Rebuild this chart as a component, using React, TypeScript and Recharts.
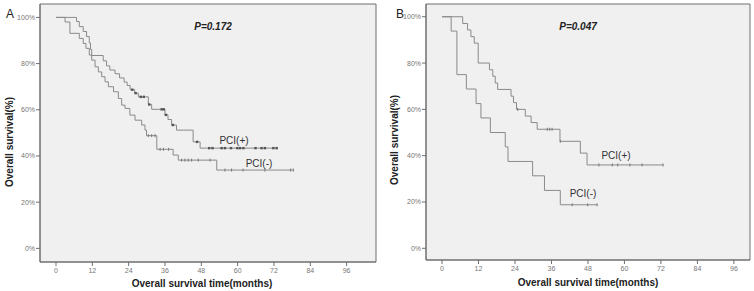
import React from "react";
import { ComposedChart, Line, Scatter, XAxis, YAxis, ReferenceArea } from "recharts";

// [month, survival %] step points
const aPos = [
  [0, 100], [6.8, 98.2], [7.7, 96], [9, 93.9], [10.1, 91.7], [11, 88.9], [11.4, 86.1],
  [11.8, 83.5], [15.6, 81.2], [16.7, 79], [17.8, 77.2], [19.5, 75.6], [21, 73.8],
  [22.5, 72], [23.5, 70.5], [24.5, 68.7], [26, 67.2], [27.2, 65.6], [30.5, 62.3],
  [31.6, 60.2], [36, 57.8], [37, 55.8], [38.2, 53.4], [39.8, 51.2], [45.3, 46.1],
  [47.6, 43.4], [73, 43.4],
];
const aNeg = [
  [0, 100], [3, 98], [4.6, 93.1], [7.7, 90.9], [9, 88.7], [9.9, 86.6], [11, 83.7],
  [11.8, 81.5], [12.9, 78.6], [14, 76.4], [15.1, 74.3], [16.2, 72.1], [17.3, 70],
  [19, 67.8], [20.6, 64.9], [21.7, 62], [22.8, 60.6], [24.4, 57.7], [26.1, 55.5],
  [28.3, 53.4], [29.4, 51.2], [29.9, 48.8], [33.3, 42.9], [38.7, 40.4], [40.4, 38.2],
  [53.1, 33.9], [78.4, 33.9],
];
const aPosCensor = [
  [25.2, 68.7], [26.3, 67.2], [28, 65.6], [29, 65.6], [30.8, 62.3], [34.9, 60.2],
  [35.6, 60.2], [36.3, 57.8], [38.6, 53.4], [46.6, 46.1], [50.6, 43.4], [51.7, 43.4],
  [54.7, 43.4], [55.8, 43.4], [57.8, 43.4], [59.9, 43.4], [60.8, 43.4], [61.9, 43.4],
  [65.9, 43.4], [67.9, 43.4], [69, 43.4], [71.8, 43.4], [72.9, 43.4],
];
const aNegCensor = [
  [30.5, 48.8], [31.6, 48.8], [32.7, 48.8], [34.4, 42.9], [35.5, 42.9], [37.2, 42.9],
  [41.5, 38.2], [42.6, 38.2], [43.7, 38.2], [44.8, 38.2], [47, 38.2], [50.9, 38.2],
  [55.8, 33.9], [58, 33.9], [61.8, 33.9], [69, 33.9], [77.5, 33.9], [78.4, 33.9],
];

const bPos = [
  [0, 100], [6.8, 97.1], [8.4, 94.3], [9.5, 91.4], [10.6, 88.6], [11.9, 80], [15.6, 77.1],
  [16.7, 74.3], [17.5, 71.4], [18.3, 68.6], [22.7, 65.7], [23.5, 62.9], [24.5, 60],
  [27.4, 57.1], [29.3, 54.3], [31.3, 51.4], [38.8, 46.2], [45.5, 41.1], [47.7, 36],
  [72.7, 36],
];
const bNeg = [
  [0, 100], [3, 93.8], [4.9, 75], [8, 68.8], [11.2, 62.5], [12.8, 56.3], [15.9, 50],
  [20.8, 43.8], [21.7, 37.5], [29.8, 31.3], [33.7, 25], [38.9, 18.8], [51, 18.8],
];
const bPosCensor = [
  [24.9, 60], [34.6, 51.4], [35.4, 51.4], [36.2, 51.4], [38.9, 46.2], [51.6, 36],
  [56, 36], [57.8, 36], [61.8, 36], [65.8, 36], [72.7, 36],
];
const bNegCensor = [[42.8, 18.8], [47.9, 18.8], [51, 18.8]];

const xTicks = [0, 12, 24, 36, 48, 60, 72, 84, 96];
const yTicks = [0, 20, 40, 60, 80, 100];

const font = "'Liberation Sans', Arial, sans-serif";
const lineColor = "#8a8a8a";
const frame = "#6f6f6f";

const toPts = (a: number[][]) => a.map(([m, s]) => ({ m, s }));

const tickMark = (props: any) => (
  <path d={`M${props.cx},${props.cy - 1.5}V${props.cy + 1.5}`} stroke="#777" strokeWidth={1} />
);
const boldMark = (props: any) => (
  <rect x={props.cx - 1.2} y={props.cy - 1.2} width={2.4} height={2.4} fill="#555" />
);

interface PanelProps {
  width: number;
  yWidth: number;
  xHeight: number;
  right: number;
  xDomain: [number, number];
  yDomain: [number, number];
  pos: number[][];
  neg: number[][];
  posCensor: number[][];
  negCensor: number[][];
  posBold?: boolean;
}

function Panel(p: PanelProps) {
  return (
    <ComposedChart
      width={p.width}
      height={291}
      margin={{ top: 4, right: p.right, bottom: 0, left: 0 }}
      style={{ fontFamily: font }}
    >
      <XAxis
        type="number"
        dataKey="m"
        domain={p.xDomain}
        ticks={xTicks}
        interval={0}
        allowDataOverflow
        height={p.xHeight}
        tickSize={4}
        tickMargin={2}
        tick={{ fontSize: 7, fill: "#777" }}
        axisLine={{ stroke: frame }}
        tickLine={{ stroke: frame }}
      />
      <YAxis
        type="number"
        dataKey="s"
        domain={p.yDomain}
        ticks={yTicks}
        interval={0}
        allowDataOverflow
        width={p.yWidth}
        tickSize={4}
        tickMargin={1}
        tickFormatter={(v) => `${v}%`}
        tick={{ fontSize: 7, fill: "#777" }}
        axisLine={{ stroke: frame }}
        tickLine={{ stroke: frame }}
      />
      <ReferenceArea
        x1={p.xDomain[0]}
        x2={p.xDomain[1]}
        y1={p.yDomain[0]}
        y2={p.yDomain[1]}
        fill="#f0f0f0"
        fillOpacity={1}
        stroke={frame}
        ifOverflow="visible"
      />
      <Line data={toPts(p.pos)} dataKey="s" type="stepAfter" stroke={lineColor} strokeWidth={1} dot={false} isAnimationActive={false} />
      <Line data={toPts(p.neg)} dataKey="s" type="stepAfter" stroke={lineColor} strokeWidth={1} dot={false} isAnimationActive={false} />
      <Scatter data={toPts(p.posCensor)} dataKey="s" shape={p.posBold ? boldMark : tickMark} isAnimationActive={false} />
      <Scatter data={toPts(p.negCensor)} dataKey="s" shape={tickMark} isAnimationActive={false} />
    </ComposedChart>
  );
}

const txt = (x: number, y: number, s: React.CSSProperties = {}): React.CSSProperties => ({
  position: "absolute",
  left: x,
  top: y,
  transform: "translate(-50%, -50%)",
  whiteSpace: "nowrap",
  fontFamily: font,
  color: "#222",
  ...s,
});

export default function App() {
  const title = { fontSize: 10, fontWeight: "bold" as const };
  const yTitle = { ...title, transform: "translate(-50%, -50%) rotate(-90deg)" };
  return (
    <div style={{ position: "absolute", left: 0, top: 0, width: 754, height: 291, background: "#fff" }}>
      <div style={{ position: "absolute", left: 0, top: 0 }}>
        <Panel
          width={377}
          yWidth={40}
          xHeight={29}
          right={1}
          xDomain={[-5.28, 105.7]}
          yDomain={[-5.9, 105.8]}
          pos={aPos}
          neg={aNeg}
          posCensor={aPosCensor}
          negCensor={aNegCensor}
          posBold
        />
      </div>
      <div style={{ position: "absolute", left: 377, top: 0 }}>
        <Panel
          width={377}
          yWidth={49}
          xHeight={31}
          right={4}
          xDomain={[-5.27, 101.3]}
          yDomain={[-5.05, 105.5]}
          pos={bPos}
          neg={bNeg}
          posCensor={bPosCensor}
          negCensor={bNegCensor}
        />
      </div>

      <div style={txt(10, 14, { fontSize: 12 })}>A</div>
      <div style={txt(400, 14, { fontSize: 12 })}>B</div>

      <div style={txt(213, 26, { ...title, fontStyle: "italic" })}>P=0.172</div>
      <div style={txt(578, 26, { ...title, fontStyle: "italic" })}>P=0.047</div>

      <div style={txt(234, 140, { fontSize: 10, color: "#333" })}>PCI(+)</div>
      <div style={txt(259, 163, { fontSize: 10, color: "#333" })}>PCI(-)</div>
      <div style={txt(616, 155, { fontSize: 10, color: "#333" })}>PCI(+)</div>
      <div style={txt(583, 193, { fontSize: 10, color: "#333" })}>PCI(-)</div>

      <div style={txt(202, 283, title)}>Overall survival time(months)</div>
      <div style={txt(588, 282, title)}>Overall survival time(months)</div>
      <div style={txt(9, 142, yTitle)}>Overall survival(%)</div>
      <div style={txt(394, 140, yTitle)}>Overall survival(%)</div>
    </div>
  );
}
